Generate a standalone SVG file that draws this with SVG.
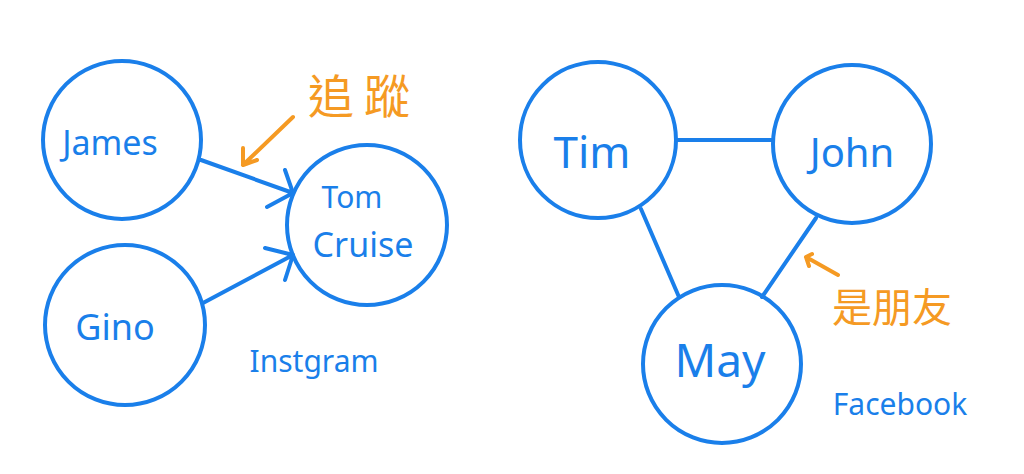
<svg xmlns="http://www.w3.org/2000/svg" width="1024" height="474" viewBox="0 0 1024 474">
<style>
.n{fill:none;stroke:#1a7fea;stroke-width:4}
.e{fill:none;stroke:#1a7fea;stroke-width:4;stroke-linecap:round;stroke-linejoin:round}
.o{fill:none;stroke:#f59a23;stroke-width:4;stroke-linecap:round;stroke-linejoin:round}
.t{fill:#1a7fea;font-family:"Noto Sans","Liberation Sans",sans-serif;text-anchor:middle}
.c{fill:#f59a23;font-family:"Noto Sans CJK TC","Noto Sans CJK SC",sans-serif}
</style>
<rect width="1024" height="474" fill="#fff"/>
<g id="connectors">
<path class="e" d="M201 160 L293 193 M285 170 L293 193 L267 207"/>
<path class="e" d="M203 303 L293 255 M265 248 L293 255 L285 280"/>
<path class="e" d="M677 140 L772 140"/>
<path class="e" d="M641 209 L679 297"/>
<path class="e" d="M816 218 L762 297"/>
</g>
<g id="james"><circle class="n" cx="122" cy="140" r="79"/><text class="t" x="110" y="155" font-size="34">James</text></g>
<g id="gino"><circle class="n" cx="125" cy="325" r="80"/><text class="t" x="115" y="340" font-size="36">Gino</text></g>
<g id="tomcruise"><circle class="n" cx="367" cy="225" r="80"/><text class="t" x="352" y="208" font-size="30">Tom</text><text class="t" x="363" y="257" font-size="34">Cruise</text></g>
<g id="tim"><circle class="n" cx="598" cy="140" r="78"/><text class="t" x="592" y="168" font-size="44">Tim</text></g>
<g id="john"><circle class="n" cx="852" cy="144" r="79"/><text class="t" x="852" y="167" font-size="40">John</text></g>
<g id="may"><circle class="n" cx="722" cy="364" r="79"/><text class="t" x="720" y="377" font-size="46">May</text></g>
<g id="follow-note">
<path class="o" d="M293 117 L243 165 M243 148 L243 165 L257 160"/>
<text class="c" x="308" y="113" font-size="46" letter-spacing="10">追蹤</text>
</g>
<g id="friend-note">
<path class="o" d="M838 275 L806 257 M812 254 L806 257 L809 266"/>
<text class="c" x="832" y="322" font-size="40">是朋友</text>
</g>
<g id="instagram"><text class="t" x="314" y="372" font-size="30">Instgram</text></g>
<g id="facebook"><text class="t" x="900" y="415" font-size="30">Facebook</text></g>
</svg>
